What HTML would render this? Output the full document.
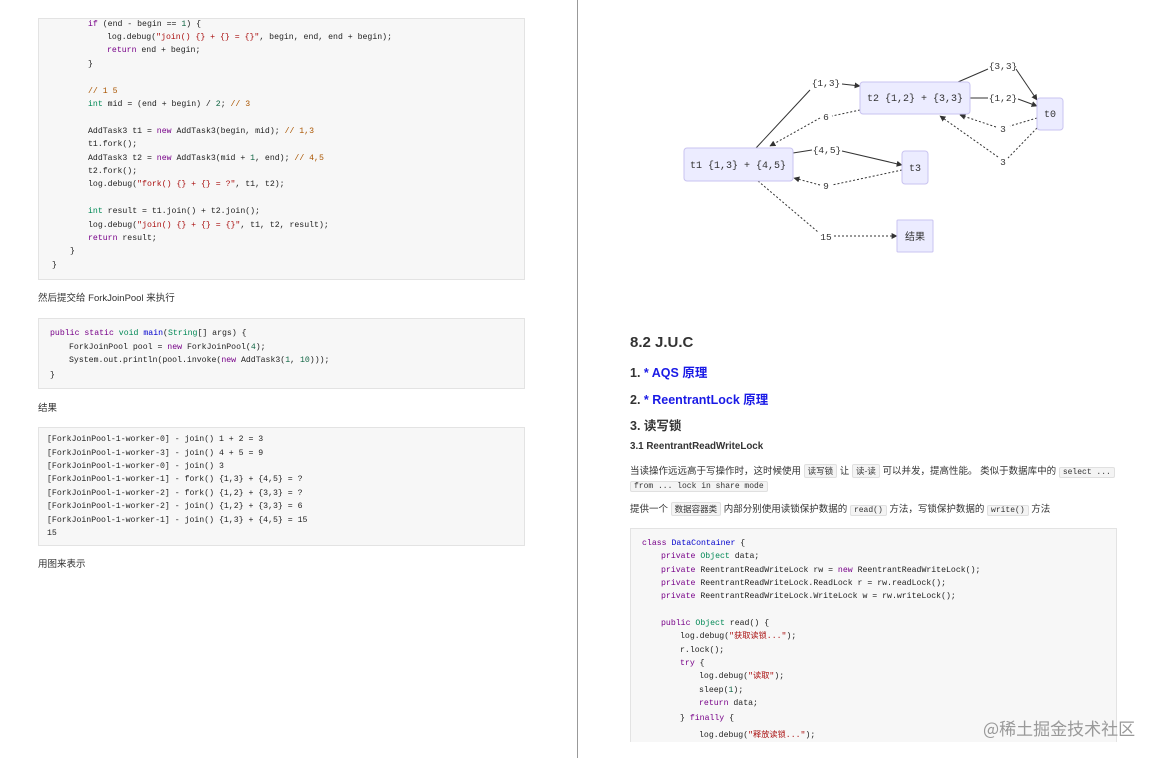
<!DOCTYPE html>
<html><head><meta charset="utf-8">
<style>
*{margin:0;padding:0;box-sizing:border-box}
body{width:1164px;height:758px;background:#fff;position:relative;overflow:hidden;font-family:"Liberation Sans","Noto Sans CJK SC",sans-serif;color:#333}
.code{position:absolute;background:#f7f7f7;border:1px solid #e3e3e3}
.l{position:absolute;white-space:pre;font-family:"Liberation Mono","Noto Sans CJK SC",monospace;font-size:8.2px;line-height:10px;color:#222}
.k{color:#770088}.s{color:#aa1111}.c{color:#aa5500}.t{color:#008855}.n{color:#116644}.d{color:#0000cc}
.p{position:absolute;white-space:nowrap;font-size:9.5px;line-height:12px;color:#333}
.ic{font-family:"Liberation Mono",monospace;font-size:8px;background:#f4f4f4;border:1px solid #e0e0e0;padding:0 3px;border-radius:2px}
.h{position:absolute;white-space:nowrap;font-weight:bold}
</style></head><body>
<div style="position:absolute;left:577px;top:0;width:1px;height:758px;background:#999"></div>

<div class="code" style="left:38px;top:18px;width:487px;height:262px"></div>
<div class="l" style="left:88px;top:20px"><span class="k">if</span> (end - begin == <span class="n">1</span>) {</div>
<div class="l" style="left:107px;top:33px">log.debug(<span class="s">"join() {} + {} = {}"</span>, begin, end, end + begin);</div>
<div class="l" style="left:107px;top:46px"><span class="k">return</span> end + begin;</div>
<div class="l" style="left:88px;top:60px">}</div>
<div class="l" style="left:88px;top:87px"><span class="c">// 1 5</span></div>
<div class="l" style="left:88px;top:100px"><span class="t">int</span> mid = (end + begin) / <span class="n">2</span>; <span class="c">// 3</span></div>
<div class="l" style="left:88px;top:127px">AddTask3 t1 = <span class="k">new</span> AddTask3(begin, mid); <span class="c">// 1,3</span></div>
<div class="l" style="left:88px;top:140px">t1.fork();</div>
<div class="l" style="left:88px;top:154px">AddTask3 t2 = <span class="k">new</span> AddTask3(mid + <span class="n">1</span>, end); <span class="c">// 4,5</span></div>
<div class="l" style="left:88px;top:167px">t2.fork();</div>
<div class="l" style="left:88px;top:180px">log.debug(<span class="s">"fork() {} + {} = ?"</span>, t1, t2);</div>
<div class="l" style="left:88px;top:207px"><span class="t">int</span> result = t1.join() + t2.join();</div>
<div class="l" style="left:88px;top:221px">log.debug(<span class="s">"join() {} + {} = {}"</span>, t1, t2, result);</div>
<div class="l" style="left:88px;top:234px"><span class="k">return</span> result;</div>
<div class="l" style="left:70px;top:247px">}</div>
<div class="l" style="left:52px;top:261px">}</div>

<div class="p" style="left:38px;top:293px">然后提交给 ForkJoinPool 来执行</div>

<div class="code" style="left:38px;top:318px;width:487px;height:71px"></div>
<div class="l" style="left:50px;top:329px"><span class="k">public static</span> <span class="t">void</span> <span class="d">main</span>(<span class="t">String</span>[] args) {</div>
<div class="l" style="left:69px;top:343px">ForkJoinPool pool = <span class="k">new</span> ForkJoinPool(<span class="n">4</span>);</div>
<div class="l" style="left:69px;top:356px">System.out.println(pool.invoke(<span class="k">new</span> AddTask3(<span class="n">1</span>, <span class="n">10</span>)));</div>
<div class="l" style="left:50px;top:371px">}</div>

<div class="p" style="left:38px;top:403px">结果</div>

<div class="code" style="left:38px;top:427px;width:487px;height:119px"></div>
<div class="l" style="left:47px;top:435px">[ForkJoinPool-1-worker-0] - join() 1 + 2 = 3</div>
<div class="l" style="left:47px;top:449px">[ForkJoinPool-1-worker-3] - join() 4 + 5 = 9</div>
<div class="l" style="left:47px;top:462px">[ForkJoinPool-1-worker-0] - join() 3</div>
<div class="l" style="left:47px;top:475px">[ForkJoinPool-1-worker-1] - fork() {1,3} + {4,5} = ?</div>
<div class="l" style="left:47px;top:489px">[ForkJoinPool-1-worker-2] - fork() {1,2} + {3,3} = ?</div>
<div class="l" style="left:47px;top:502px">[ForkJoinPool-1-worker-2] - join() {1,2} + {3,3} = 6</div>
<div class="l" style="left:47px;top:516px">[ForkJoinPool-1-worker-1] - join() {1,3} + {4,5} = 15</div>
<div class="l" style="left:47px;top:529px">15</div>

<div class="p" style="left:38px;top:559px">用图来表示</div>

<svg style="position:absolute;left:0;top:0" width="1164" height="300" font-family="Liberation Mono, monospace" font-size="10">
<defs><marker id="a" viewBox="0 0 10 10" refX="9" refY="5" markerWidth="6" markerHeight="6" orient="auto"><path d="M0,0L10,5L0,10z" fill="#333"/></marker></defs>
<g fill="none" stroke="#333" stroke-width="1">
<path d="M756,148 L810,90"/><path d="M842,84 L860,86" marker-end="url(#a)"/>
<path d="M860,110 L832,116" stroke-dasharray="2,2"/><path d="M820,118 L770,146" stroke-dasharray="2,2" marker-end="url(#a)"/>
<path d="M958,82 L988,69"/><path d="M1016,69 L1037,100" marker-end="url(#a)"/>
<path d="M970,98 L988,98"/><path d="M1018,99 L1037,106" marker-end="url(#a)"/>
<path d="M1037,118 L1010,126" stroke-dasharray="2,2"/><path d="M996,127 L960,115" stroke-dasharray="2,2" marker-end="url(#a)"/>
<path d="M1037,128 L1008,158" stroke-dasharray="2,2"/><path d="M998,157 L940,116" stroke-dasharray="2,2" marker-end="url(#a)"/>
<path d="M793,153 L812,150"/><path d="M842,151 L902,165" marker-end="url(#a)"/>
<path d="M902,170 L832,185" stroke-dasharray="2,2"/><path d="M820,185 L794,178" stroke-dasharray="2,2" marker-end="url(#a)"/>
<path d="M758,181 L818,232" stroke-dasharray="2,2"/><path d="M834,236 L897,236" stroke-dasharray="2,2" marker-end="url(#a)"/>
</g>
<g fill="#ececff" stroke="#c9c3f0">
<rect x="860" y="82" width="110" height="32" rx="3"/>
<rect x="1037" y="98" width="26" height="32" rx="3"/>
<rect x="684" y="148" width="109" height="33" rx="3"/>
<rect x="902" y="151" width="26" height="33" rx="3"/>
<rect x="897" y="220" width="36" height="32" rx="1"/>
</g>
<g fill="#333" text-anchor="middle">
<text x="915" y="101">t2 {1,2} + {3,3}</text>
<text x="1050" y="117">t0</text>
<text x="738" y="168">t1 {1,3} + {4,5}</text>
<text x="915" y="171">t3</text>
<text x="915" y="240" font-family="Liberation Sans, Noto Sans CJK SC, sans-serif">结果</text>
<g font-size="9.5" fill="#333">
<text x="826" y="86">{1,3}</text><text x="826" y="120">6</text>
<text x="1003" y="69">{3,3}</text><text x="1003" y="101">{1,2}</text>
<text x="1003" y="132">3</text><text x="1003" y="165">3</text>
<text x="827" y="153">{4,5}</text><text x="826" y="189">9</text>
<text x="826" y="240">15</text>
</g></g>
</svg>

<div class="h" style="left:630px;top:334px;font-size:15px">8.2 J.U.C</div>
<div class="h" style="left:630px;top:362px;font-size:12.5px;color:#1a1ae6"><span style="color:#333">1.</span> * AQS 原理</div>
<div class="h" style="left:630px;top:389px;font-size:12.5px;color:#1a1ae6"><span style="color:#333">2.</span> * ReentrantLock 原理</div>
<div class="h" style="left:630px;top:415px;font-size:12.5px">3. 读写锁</div>
<div class="h" style="left:630px;top:441px;font-size:9.8px">3.1 ReentrantReadWriteLock</div>
<div class="p" style="left:630px;top:465px">当读操作远远高于写操作时，这时候使用 <span class="ic" style="font-family:'Noto Sans CJK SC';font-size:8.5px">读写锁</span> 让 <span class="ic" style="font-family:'Noto Sans CJK SC';font-size:8.5px">读-读</span> 可以并发，提高性能。 类似于数据库中的 <span class="ic">select ...</span></div>
<div class="p" style="left:630px;top:480px"><span class="ic">from ... lock in share mode</span></div>
<div class="p" style="left:630px;top:503px">提供一个 <span class="ic" style="font-family:'Noto Sans CJK SC';font-size:8.5px">数据容器类</span> 内部分别使用读锁保护数据的 <span class="ic">read()</span> 方法，写锁保护数据的 <span class="ic">write()</span> 方法</div>

<div class="code" style="left:630px;top:528px;width:487px;height:214px;border-bottom:none"></div>
<div class="l" style="left:642px;top:539px"><span class="k">class</span> <span class="d">DataContainer</span> {</div>
<div class="l" style="left:661px;top:552px"><span class="k">private</span> <span class="t">Object</span> data;</div>
<div class="l" style="left:661px;top:566px"><span class="k">private</span> ReentrantReadWriteLock rw = <span class="k">new</span> ReentrantReadWriteLock();</div>
<div class="l" style="left:661px;top:579px"><span class="k">private</span> ReentrantReadWriteLock.ReadLock r = rw.readLock();</div>
<div class="l" style="left:661px;top:592px"><span class="k">private</span> ReentrantReadWriteLock.WriteLock w = rw.writeLock();</div>
<div class="l" style="left:661px;top:619px"><span class="k">public</span> <span class="t">Object</span> read() {</div>
<div class="l" style="left:680px;top:632px">log.debug(<span class="s">"获取读锁..."</span>);</div>
<div class="l" style="left:680px;top:646px">r.lock();</div>
<div class="l" style="left:680px;top:659px"><span class="k">try</span> {</div>
<div class="l" style="left:699px;top:672px">log.debug(<span class="s">"读取"</span>);</div>
<div class="l" style="left:699px;top:686px">sleep(<span class="n">1</span>);</div>
<div class="l" style="left:699px;top:699px"><span class="k">return</span> data;</div>
<div class="l" style="left:680px;top:714px">} <span class="k">finally</span> {</div>
<div class="l" style="left:699px;top:731px">log.debug(<span class="s">"释放读锁..."</span>);</div>

<div style="position:absolute;left:983px;top:715px;font-size:17px;color:#999;font-family:'Noto Sans CJK SC',sans-serif;white-space:nowrap">@稀土掘金技术社区</div>
</body></html>
